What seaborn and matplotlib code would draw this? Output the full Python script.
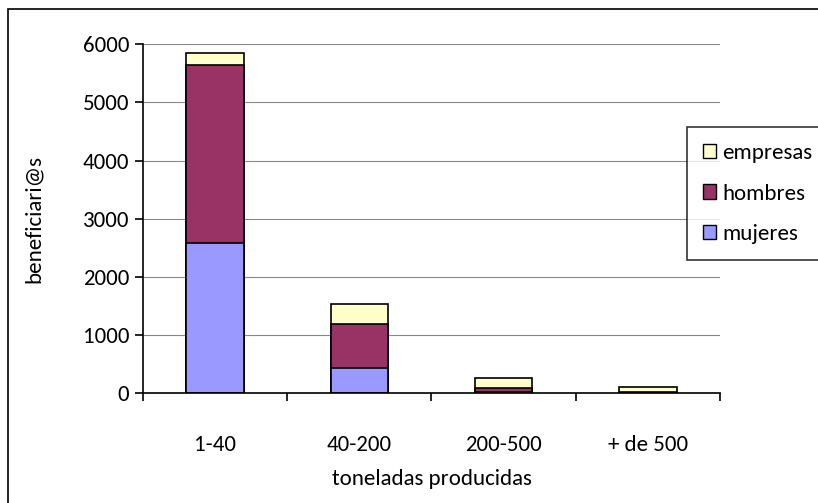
import matplotlib.pyplot as plt
import matplotlib.patches as mpatches
import seaborn as sns
import pandas as pd

sns.set_style('white')
plt.rcParams['font.family'] = ['Carlito', 'Liberation Sans Narrow', 'DejaVu Sans']
plt.rcParams['font.stretch'] = 'condensed'
plt.rcParams['text.color'] = 'black'
plt.rcParams['axes.labelcolor'] = 'black'
plt.rcParams['xtick.color'] = 'black'
plt.rcParams['ytick.color'] = 'black'

# values
categorias = ['1-40', '40-200', '200-500', '+ de 500']
mujeres = [2580, 440, 30, 10]
hombres = [3060, 750, 60, 15]
empresas = [200, 345, 170, 80]

col_mujeres = '#9999FF'
col_hombres = '#993366'
col_empresas = '#FFFFCC'

df = pd.DataFrame({'cat': categorias, 'mujeres': mujeres,
                   'hombres': hombres, 'empresas': empresas})
df['h_top'] = df['mujeres'] + df['hombres']
df['e_top'] = df['h_top'] + df['empresas']

fs = 16.5

fig = plt.figure(figsize=(8.18, 5.03), dpi=100)
ax = fig.add_axes([0.1748, 0.2177, 0.7054, 0.6948])

# stacked bars drawn as cumulative layers
for col, color in [('e_top', col_empresas), ('h_top', col_hombres), ('mujeres', col_mujeres)]:
    sns.barplot(data=df, x='cat', y=col, order=categorias, color=color,
                width=0.4, edgecolor='black', linewidth=1.2, saturation=1, ax=ax)

ax.set_ylim(0, 6000)
ax.set_xlim(-0.5, 3.5)
ax.set_yticks(range(0, 6001, 1000))
ax.yaxis.grid(True, color='#888888', linewidth=0.8)
ax.set_axisbelow(True)
for s in ['top', 'right']:
    ax.spines[s].set_visible(False)
for s in ['left', 'bottom']:
    ax.spines[s].set_color('black')
    ax.spines[s].set_linewidth(1.2)

# category labels centred, tick marks between categories
ax.set_xticks([-0.5, 0.5, 1.5, 2.5, 3.5])
ax.set_xticklabels([])
ax.set_xticks([0, 1, 2, 3], minor=True)
ax.set_xticklabels(categorias, minor=True, fontsize=fs)
ax.tick_params(axis='x', which='major', direction='out', length=6, width=1.2, color='black', bottom=True)
ax.tick_params(axis='x', which='minor', length=0, pad=30)
ax.tick_params(axis='y', direction='out', length=6, width=1.2, color='black', left=True, labelsize=fs, pad=4)

ax.set_xlabel('toneladas producidas', fontsize=fs, labelpad=10)
ax.set_ylabel('beneficiari@s', fontsize=fs, labelpad=28)

handles = [mpatches.Patch(facecolor=c, edgecolor='black', label=l)
           for c, l in [(col_empresas, 'empresas'), (col_hombres, 'hombres'), (col_mujeres, 'mujeres')]]
leg = ax.legend(handles=handles, loc='upper left', bbox_to_anchor=(0.942, 0.763),
                fontsize=fs, frameon=True, fancybox=False, edgecolor='black',
                handlelength=0.6, handleheight=0.6, handletextpad=0.25,
                labelspacing=0.9, borderpad=0.7, borderaxespad=0)
leg.get_frame().set_linewidth(1.2)

# outer chart border
fig.patches.append(mpatches.Rectangle((8 / 818, -0.1), 1.2, 1 - 9 / 503 + 0.1,
                                      transform=fig.transFigure, fill=False,
                                      edgecolor='black', linewidth=1.2))

fig.savefig('out.png', dpi=100)
